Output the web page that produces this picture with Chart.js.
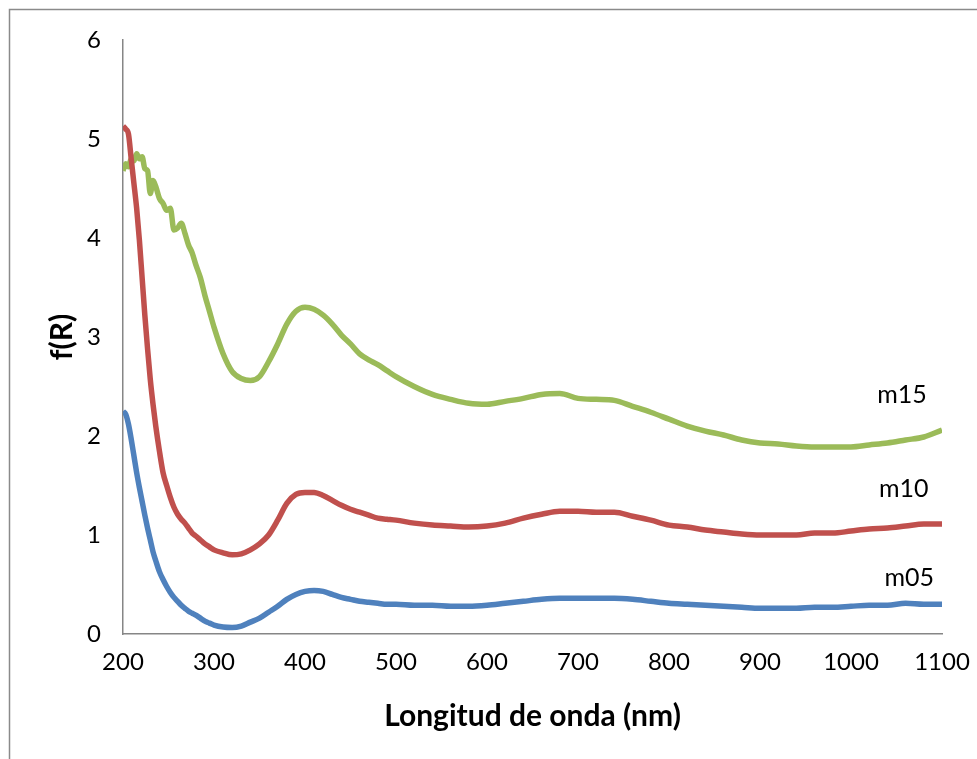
<!DOCTYPE html>
<html>
<head>
<meta charset="utf-8">
<script src="https://cdn.jsdelivr.net/npm/chart.js@4.4.1/dist/chart.umd.min.js"></script>
<style>
html,body{margin:0;padding:0;background:#fff;}
#wrap{position:relative;width:977px;height:759px;}
</style>
</head>
<body>
<div id="wrap"><canvas id="c" width="977" height="759"></canvas></div>
<script>
const wavelength = [200,203,206,209,212,215,218,221,224,227,230,233,236,240,244,248,252,256,260,264,268,272,276,280,285,290,295,300,310,320,330,340,350,360,370,380,390,400,410,420,430,440,450,460,470,480,490,500,520,540,560,580,600,620,640,660,680,700,720,740,760,780,800,820,840,860,880,900,920,940,960,980,1000,1020,1040,1060,1080,1100];

const m05 = [2.25,2.22,2.12,1.97,1.80,1.63,1.48,1.34,1.20,1.07,0.95,0.83,0.74,0.63,0.55,0.48,0.42,0.37,0.33,0.29,0.26,0.23,0.21,0.19,0.16,0.13,0.11,0.09,0.07,0.065,0.08,0.12,0.16,0.22,0.28,0.35,0.40,0.43,0.44,0.43,0.40,0.37,0.35,0.33,0.32,0.31,0.30,0.30,0.29,0.29,0.28,0.28,0.29,0.31,0.33,0.35,0.36,0.36,0.36,0.36,0.35,0.33,0.31,0.30,0.29,0.28,0.27,0.26,0.26,0.26,0.27,0.27,0.28,0.29,0.29,0.31,0.30,0.30];

const m10 = [5.13,5.10,5.05,4.80,4.55,4.30,3.98,3.60,3.22,2.88,2.57,2.32,2.10,1.85,1.63,1.50,1.38,1.28,1.21,1.16,1.12,1.07,1.02,0.99,0.95,0.91,0.88,0.85,0.82,0.80,0.81,0.85,0.91,1.00,1.15,1.32,1.41,1.43,1.43,1.40,1.35,1.30,1.26,1.23,1.20,1.17,1.16,1.15,1.12,1.10,1.09,1.08,1.09,1.12,1.17,1.21,1.24,1.24,1.23,1.23,1.19,1.15,1.10,1.08,1.05,1.03,1.01,1.00,1.00,1.00,1.02,1.02,1.04,1.06,1.07,1.09,1.11,1.11];

const m15 = [4.68,4.75,4.72,4.80,4.78,4.85,4.80,4.82,4.70,4.68,4.45,4.58,4.52,4.40,4.35,4.28,4.30,4.08,4.10,4.15,4.05,3.93,3.85,3.73,3.60,3.42,3.26,3.10,2.83,2.65,2.58,2.56,2.60,2.75,2.93,3.13,3.26,3.30,3.28,3.22,3.13,3.02,2.93,2.83,2.77,2.72,2.66,2.60,2.50,2.42,2.37,2.33,2.32,2.35,2.38,2.42,2.43,2.38,2.37,2.36,2.30,2.24,2.17,2.10,2.05,2.01,1.96,1.93,1.92,1.90,1.89,1.89,1.89,1.91,1.93,1.96,1.99,2.06];

const seriesNames = ['m05','m10','m15'];
const xTicks = [200,300,400,500,600,700,800,900,1000,1100];
const yTicks = [0,1,2,3,4,5,6];

const FONT = 'Lato, "Open Sans", sans-serif';
const colors = ['#4F81BD','#C0504D','#9BBB59'];
const seriesValues = [m05, m10, m15];

function toPoints(vals){ return wavelength.map((x,i)=>({x:x,y:vals[i]})); }

const labelPos = {m15:[1056,2.41], m10:[1058,1.47], m05:[1064,0.57]};

const frame = {
  id:'frame',
  beforeDraw(chart){
    const ctx = chart.ctx;
    ctx.save();
    ctx.fillStyle = '#fff';
    ctx.fillRect(0,0,chart.width,chart.height);
    ctx.strokeStyle = '#8a8a8a';
    ctx.lineWidth = 1.5;
    ctx.strokeRect(9.5,9.5,1000,1000);
    ctx.restore();
  },
  afterDatasetsDraw(chart){
    const ctx = chart.ctx;
    const xs = chart.scales.x, ys = chart.scales.y;
    ctx.save();
    ctx.font = '25px ' + FONT;
    ctx.fillStyle = '#000';
    ctx.textAlign = 'center';
    ctx.textBaseline = 'middle';
    seriesNames.forEach(n=>{
      const p = labelPos[n];
      ctx.fillText(n, xs.getPixelForValue(p[0]), ys.getPixelForValue(p[1]));
    });
    ctx.restore();
  }
};

new Chart(document.getElementById('c'), {
  type:'line',
  data:{
    datasets: seriesNames.map((n,i)=>({
      label:n,
      data:toPoints(seriesValues[i]),
      borderColor:colors[i],
      backgroundColor:colors[i],
      borderWidth:5.5,
      pointRadius:0,
      cubicInterpolationMode:'monotone',
      fill:false
    }))
  },
  options:{
    responsive:false,
    animation:false,
    devicePixelRatio:1,
    layout:{padding:{top:40,right:35,left:0,bottom:25}},
    plugins:{legend:{display:false},tooltip:{enabled:false}},
    scales:{
      x:{
        type:'linear',
        min:200,max:1100,
        afterBuildTicks(s){ s.ticks = xTicks.map(v=>({value:v})); },
        afterFit(s){ s.height = 100; s.paddingRight = 0; },
        grid:{display:false,drawTicks:false},
        border:{display:true,color:'#868686',width:1.5},
        ticks:{color:'#000',font:{family:FONT,size:24},padding:14,maxRotation:0,autoSkip:false,callback:(v)=>String(v)},
        title:{display:true,text:'Longitud de onda (nm)',color:'#000',font:{family:FONT,size:30,weight:'bold'},padding:{top:16,bottom:0}}
      },
      y:{
        type:'linear',
        min:0,max:6,
        afterBuildTicks(s){ s.ticks = yTicks.map(v=>({value:v})); },
        afterFit(s){ s.width = 123; },
        grid:{display:false,drawTicks:false},
        border:{display:true,color:'#868686',width:1.5},
        ticks:{color:'#000',font:{family:FONT,size:24},padding:22,callback:(v)=>String(v)},
        title:{display:true,text:'f(R)',color:'#000',font:{family:FONT,size:30,weight:'bold'},padding:{top:44,bottom:0}}
      }
    }
  },
  plugins:[frame]
});
</script>
</body>
</html>
